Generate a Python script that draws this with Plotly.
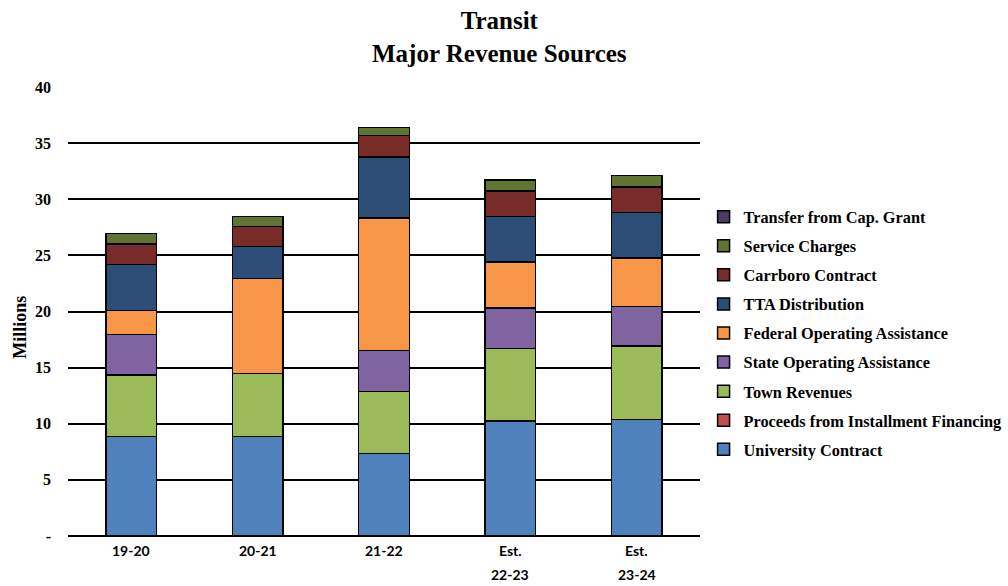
import plotly.graph_objects as go

categories = ["19-20", "20-21", "21-22", "Est.<br>22-23", "Est.<br>23-24"]

university_contract = [8.87, 8.87, 7.36, 10.25, 10.37]
proceeds_installment = [0, 0, 0, 0, 0]
town_revenues = [5.48, 5.60, 5.51, 6.46, 6.55]
state_operating = [3.60, 0.0, 3.66, 3.61, 3.52]
federal_operating = [2.15, 8.45, 11.80, 4.11, 4.31]
tta_distribution = [4.10, 2.85, 5.45, 4.05, 4.06]
carrboro_contract = [1.80, 1.80, 1.88, 2.24, 2.29]
service_charges = [0.96, 0.90, 0.74, 1.00, 1.02]
transfer_cap_grant = [0, 0, 0, 0, 0]

y_ticks = [0, 5, 10, 15, 20, 25, 30, 35, 40]
y_tick_labels = ["-", "5", "10", "15", "20", "25", "30", "35", "40"]

series = [
    ("University Contract", university_contract, "#4F81BD"),
    ("Proceeds from Installment Financing", proceeds_installment, "#C0504D"),
    ("Town Revenues", town_revenues, "#9BBB59"),
    ("State Operating Assistance", state_operating, "#8064A2"),
    ("Federal Operating Assistance", federal_operating, "#F79646"),
    ("TTA Distribution", tta_distribution, "#2C4D75"),
    ("Carrboro Contract", carrboro_contract, "#772C2A"),
    ("Service Charges", service_charges, "#5F7530"),
    ("Transfer from Cap. Grant", transfer_cap_grant, "#4D3B62"),
]

fig = go.Figure()
n = len(series)
for i, (name, vals, color) in enumerate(series):
    fig.add_trace(go.Bar(
        x=categories, y=vals, name=name, legendgroup=name,
        legendrank=n - i,
        marker=dict(color=color, line=dict(color="black", width=1.5)),
    ))

serif = "Liberation Serif, Times New Roman, serif"
sans = "Lato, Open Sans, sans-serif"

fig.update_layout(
    width=1008, height=586,
    barmode="stack", bargap=0.6,
    plot_bgcolor="white", paper_bgcolor="white",
    margin=dict(l=68, r=308, t=87, b=50, autoexpand=False),
    legend=dict(
        traceorder="grouped", tracegroupgap=4.9,
        xref="container", x=0.698, xanchor="left", y=0.452, yanchor="middle",
        font=dict(family=serif, size=16.3, color="black", weight="bold"),
        itemwidth=30,
    ),
    showlegend=True,
)

# Chart title
fig.add_annotation(
    text="<b>Transit<br>Major Revenue Sources</b>",
    xref="paper", yref="paper", x=0.683, y=1.182,
    xanchor="center", yanchor="top", showarrow=False,
    font=dict(family=serif, size=25, color="black"),
)

# Y-axis title
fig.add_annotation(
    text="<b>Millions</b>",
    xref="paper", yref="paper", x=-0.076, y=0.466,
    xanchor="center", yanchor="middle", showarrow=False, textangle=-90,
    font=dict(family=serif, size=18, color="black"),
)

# Category labels, one annotation per line
for cat in categories:
    for j, line in enumerate(cat.split("<br>")):
        fig.add_annotation(
            text=f"<b>{line}</b>", xref="x", yref="paper", x=cat,
            y=-0.033 - j * 0.0535, xanchor="center", yanchor="middle",
            showarrow=False,
            font=dict(family=sans, size=14, color="black"),
        )

fig.update_yaxes(
    range=[0, 40], tickvals=y_ticks, ticktext=y_tick_labels,
    showgrid=True, gridcolor="black", gridwidth=1.5,
    zeroline=True, zerolinecolor="black", zerolinewidth=1.5,
    showline=False, ticks="", ticklabelstandoff=16,
    tickfont=dict(family=serif, size=16, color="black", weight="bold"),
)
fig.update_xaxes(
    showgrid=False, showline=False, ticks="", showticklabels=False,
)

fig.write_html("out.html")
